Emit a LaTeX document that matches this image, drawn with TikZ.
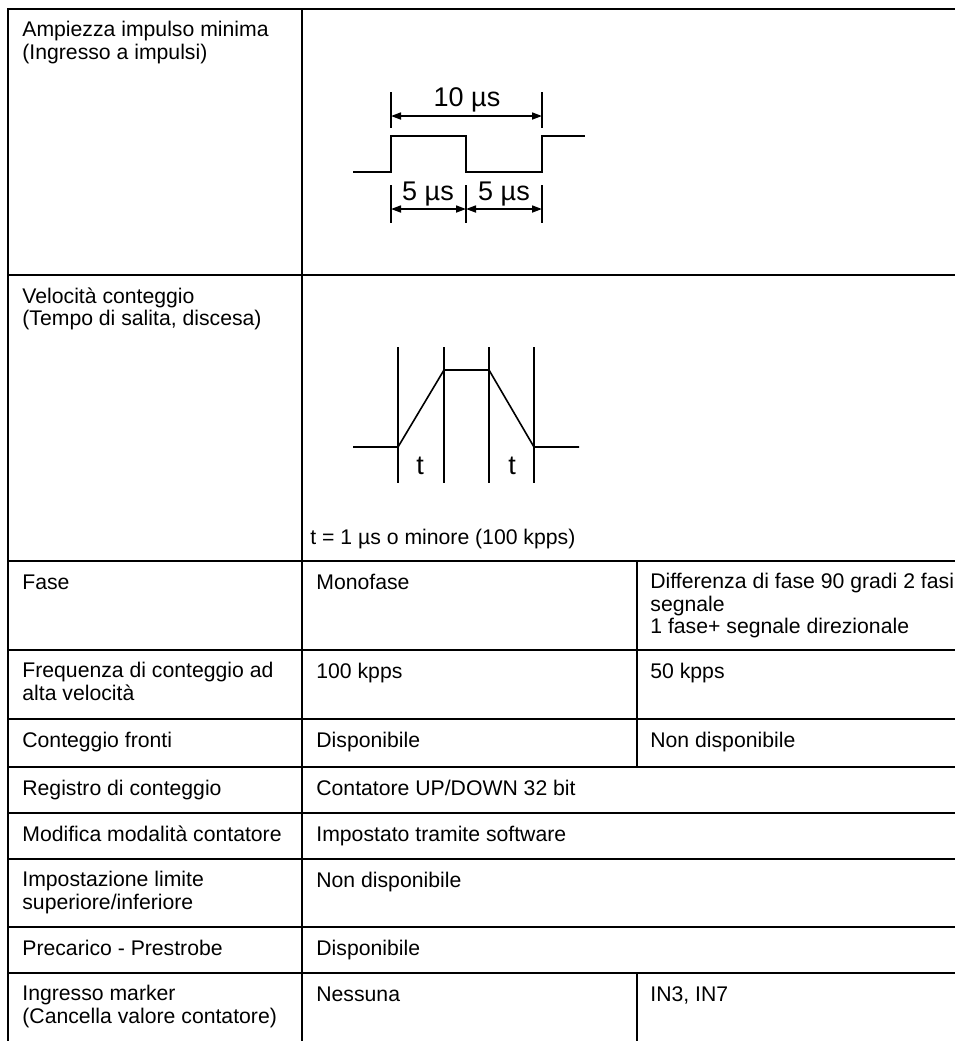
\documentclass[tikz,border=0pt]{standalone}
\usepackage{fontspec}
\setmainfont{Liberation Sans}
\usepackage{tikz}
\usetikzlibrary{arrows.meta}
\tikzstyle{cell} = [anchor=north west, inner sep=0pt, align=left, font=\fontsize{10.6}{11.2}\selectfont, execute at begin node=\strut]
\tikzstyle{lbl} = [anchor=base, inner sep=0pt, font=\fontsize{13.5}{14}\selectfont]
\tikzstyle{grid} = [line width=1.3pt]
\tikzstyle{wave} = [line width=0.8pt]
\tikzstyle{dim} = [line width=0.8pt, {Triangle[length=5pt,width=3.5pt]}-{Triangle[length=5pt,width=3.5pt]}]

\begin{document}
\begin{tikzpicture}[x=0.5pt,y=-0.5pt]
	\useasboundingbox (0,0) rectangle (955,1041);

	% table rules
	\draw[grid] (955,9) -- (8,9) -- (8,1041);
	\foreach \y in {275,561,650,719,767,813,859,927,973}
		\draw[grid] (8,\y) -- (955,\y);
	\draw[grid] (302,9) -- (302,1041);
	\draw[grid] (637,561) -- (637,767);
	\draw[grid] (637,973) -- (637,1041);

	% first column
	\node[cell] (ampiezza) at (22,21) {Ampiezza impulso minima\\(Ingresso a impulsi)};
	\node[cell] (velocita) at (22,287) {Velocità conteggio\\(Tempo di salita, discesa)};
	\node[cell] (fase) at (22,573) {Fase};
	\node[cell] (frequenza) at (22,662) {Frequenza di conteggio ad\\alta velocità};
	\node[cell] (fronti) at (22,731) {Conteggio fronti};
	\node[cell] (registro) at (22,779) {Registro di conteggio};
	\node[cell] (modifica) at (22,825) {Modifica modalità contatore};
	\node[cell] (limite) at (22,871) {Impostazione limite\\superiore/inferiore};
	\node[cell] (precarico) at (22,939) {Precarico - Prestrobe};
	\node[cell] (marker) at (22,985) {Ingresso marker\\(Cancella valore contatore)};

	% values
	\node[cell] (monofase) at (316,573) {Monofase};
	\node[cell] (duefasi) at (650,573) {Differenza di fase 90 gradi 2 fasi\\segnale\\1 fase+ segnale direzionale};
	\node[cell] (f100) at (316,662) {100 kpps};
	\node[cell] (f50) at (650,662) {50 kpps};
	\node[cell] (disp) at (316,731) {Disponibile};
	\node[cell] (nondisp) at (650,731) {Non disponibile};
	\node[cell] (updown) at (316,779) {Contatore UP/DOWN 32 bit};
	\node[cell] (software) at (316,825) {Impostato tramite software};
	\node[cell] (nolimite) at (316,871) {Non disponibile};
	\node[cell] (preset) at (316,939) {Disponibile};
	\node[cell] (nessuna) at (316,985) {Nessuna};
	\node[cell] (in37) at (650,985) {IN3, IN7};

	% minimum pulse width
	\draw[wave] (353,172) -| (391,136) -| (466,172) -| (542,136) -- (585,136);
	\foreach \x in {391,542}
		\draw[wave] (\x,92) -- (\x,128);
	\foreach \x in {391,466,542}
		\draw[wave] (\x,185) -- (\x,223);
	\coordinate (A) at (391,116);
	\coordinate (B) at (542,116);
	\coordinate (C) at (391,209);
	\coordinate (D) at (466,209);
	\coordinate (E) at (542,209);
	\draw[dim] (A) -- (B);
	\draw[dim] (C) -- (D);
	\draw[dim] (D) -- (E);
	\node[lbl] (dieci) at (467,106) {10 µs};
	\node[lbl] (cinqueA) at (428,200) {5 µs};
	\node[lbl] (cinqueB) at (504,200) {5 µs};

	% rise and fall time
	\foreach \x in {398,444,489,534}
		\draw[wave] (\x,347) -- (\x,483);
	\draw[wave] (353,447) -- (398,447) -- (444,370) -- (489,370) -- (534,447) -- (579,447);
	\node[lbl] (tsal) at (420,474) {t};
	\node[lbl] (tdis) at (512,474) {t};
	\node[anchor=base west, inner sep=0pt, font=\fontsize{10.6}{11.2}\selectfont] (tnota) at (310,544) {t = 1 µs o minore (100 kpps)};

\end{tikzpicture}
\end{document}
